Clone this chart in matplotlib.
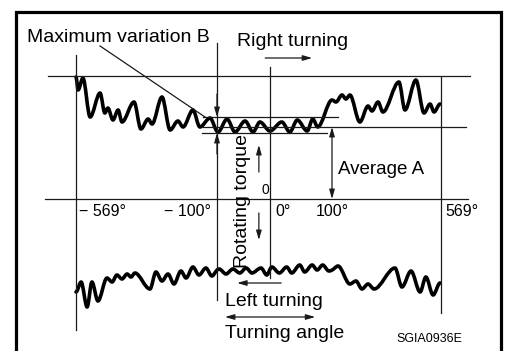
import numpy as np
import matplotlib
matplotlib.use("Agg")
import matplotlib.pyplot as plt
from matplotlib.patches import Rectangle, PathPatch
from matplotlib.path import Path

plt.rcParams['font.family'] = ['Liberation Sans', 'DejaVu Sans']

# steering wheel angle (deg) vs rotating torque (arbitrary units),
# peaks and troughs
right_angle = [-569, -562, -546, -522, -489, -473, -463, -446, -429, -416, -376, -353, -329, -316,
               -283, -256, -230, -213, -180, -157, -123, -98, -81, -66, -47, -32, -19, 0,
               19, 32, 44, 60, 69, 77, 100, 117, 143, 160, 177, 220, 255, 272, 298, 319,
               388, 414, 461, 496, 522, 539, 565]
right_torque = [122, 109, 121, 82, 106, 86, 91, 79, 89, 77, 97, 70, 80, 75,
                102, 69, 78, 72, 89, 72, 81, 67, 80, 67, 78, 67, 77, 68,
                77, 67, 79, 68, 80, 72, 99, 97, 104, 100, 104, 77, 93, 88, 97, 87,
                117, 89, 119, 86, 95, 87, 95]

left_angle = [-569, -552, -532, -516, -496, -466, -449, -433, -416, -399, -386, -373, -323, -303,
              -283, -263, -243, -220, -203, -180, -160, -137, -117, -96, -83, -70, -57, -45,
              -34, -17, -6, 3, 15, 27, 35, 48, 56, 68, 76, 85, 95, 126, 177, 203,
              229, 255, 281, 371, 401, 440, 479, 504, 535, 565]
left_torque = [-93, -83, -108, -83, -102, -79, -83, -76, -80, -75, -78, -74, -90, -73,
               -82, -75, -85, -72, -79, -68, -76, -69, -77, -70, -75, -70, -74, -69,
               -74, -69, -76, -68, -74, -68, -74, -66, -73, -66, -71, -66, -72, -67, -85, -82,
               -90, -85, -90, -69, -88, -72, -93, -78, -96, -84]

tick_angles = [-569, -100, 0, 100, 569]
tick_labels = ['− 569°', '− 100°', '0°', '100°', '569°']

level_max = 123
level_avg = 72
band_hi = 82
band_lo = 66

# sheet is not to scale: angle -> position along the axis
DEG = [-822, -569, -100, 0, 100, 569, 849]
POS = [0, 76, 217, 270, 332, 441, 506]


def fwd(a):
    return np.interp(a, DEG, POS)


def inv(p):
    return np.interp(p, POS, DEG)


W, H = 506, 351
fig = plt.figure(figsize=(W / 100, H / 100), dpi=100)
ax = fig.add_axes([0, 0, 1, 1])
ax.set_xscale('function', functions=(fwd, inv))
ax.set_xlim(DEG[0], DEG[-1])
ax.set_ylim(-152, 199)
ax.axis('off')

thin = dict(color='#1a1a1a', lw=0.9)
ax.plot([-662, 694], [level_max] * 2, **thin)
ax.plot([-147, 677], [level_avg] * 2, **thin)
ax.plot([-147, 126], [band_hi] * 2, **thin)
ax.plot([-150, 92], [band_lo] * 2, **thin)
ax.plot([-672, 686], [0, 0], **thin)
for a, top, bot in [(-569, 144, -131), (-100, 156, -101), (0, 132, -79), (569, 122, -114)]:
    ax.plot([a, a], [top, bot], **thin)
# leader for "Maximum variation B"
ax.plot([-489, -140], [153, band_hi], **thin)


def wave(xs, ys):
    # smooth curve through the peaks/troughs (flat tangent at each one)
    verts = [(xs[0], ys[0])]
    codes = [Path.MOVETO]
    for x0, y0, x1, y1 in zip(xs, ys, xs[1:], ys[1:]):
        d = (x1 - x0) / 3
        verts += [(x0 + d, y0), (x1 - d, y1), (x1, y1)]
        codes += [Path.CURVE4] * 3
    ax.add_patch(PathPatch(Path(verts, codes), fill=False, lw=2.6, ec='black',
                           capstyle='round', joinstyle='round'))


wave(right_angle, right_torque)
wave(left_angle, left_torque)


def arrow(tip, tail, style='-|>'):
    ax.annotate('', xy=tip, xytext=tail,
                arrowprops=dict(arrowstyle=style + ',head_length=0.55,head_width=0.16',
                                mutation_scale=10, color='#1a1a1a', lw=0.9,
                                shrinkA=0, shrinkB=0))


arrow((-100, band_hi), (-100, 105))
arrow((-100, band_lo), (-100, 45))
arrow((100, level_avg), (100, 0), '<|-|>')
arrow((-21, 54), (-21, 27))
arrow((-21, -41), (-21, -14))
arrow((68, 141), (-9, 141))
arrow((-62, -84), (18, -84))
arrow((73, -118), (-85, -118), '<|-|>')

# angle labels under the zero line
offs = [(2, 'left'), (-4, 'right'), (4, 'left'), (0, 'center'), (3, 'left')]
for a, lab, (dx, ha) in zip(tick_angles, tick_labels, offs):
    ax.annotate(lab, (a, -13), xytext=(dx, 0), textcoords='offset points',
                ha=ha, va='center', size=11.5)


def put(x, y, s, **kw):
    kw.setdefault('size', 14)
    kw.setdefault('va', 'center')
    fig.text(x / W, 1 - y / H, s, **kw)


put(27, 38, 'Maximum variation B')
put(237, 42, 'Right turning')
put(338, 170, 'Average A', size=13.5)
put(243, 201, 'Rotating torque', rotation=90, ha='center')
put(265, 190, '0', size=10, ha='center')
put(225, 302, 'Left turning')
put(225, 333, 'Turning angle')
put(429, 339, 'SGIA0936E', size=9, ha='center')

fig.add_artist(Rectangle((16.5 / W, -0.2), (501 - 16.5) / W, 1.2 - 11.5 / H,
                         transform=fig.transFigure, fill=False, lw=2.3, color='black'))

fig.savefig('out.png', dpi=100)
